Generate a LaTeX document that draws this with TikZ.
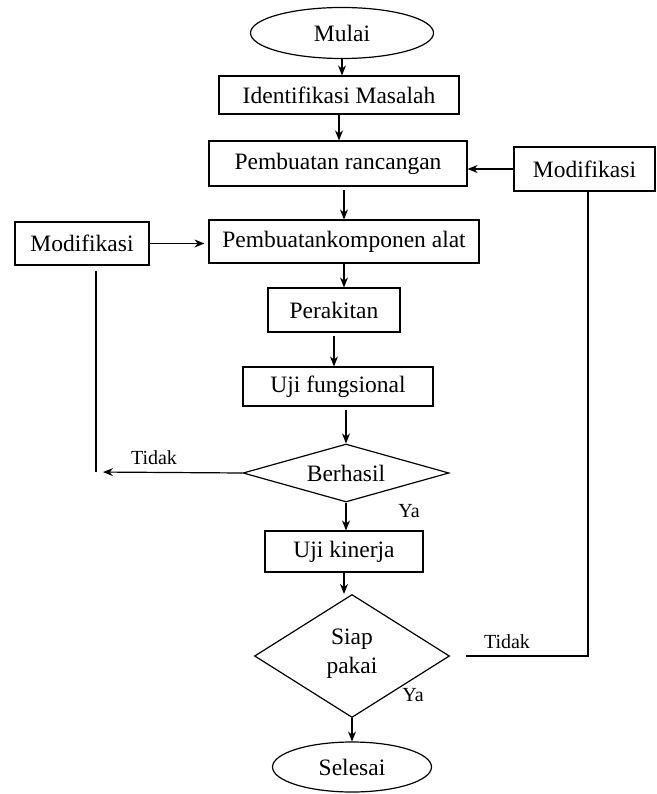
\documentclass[tikz,border=0pt]{standalone}
\usepackage{fontspec}
\setmainfont{Liberation Serif}
\usetikzlibrary{shapes.geometric, arrows.meta}

\begin{document}
\begin{tikzpicture}[x=1pt, y=-1pt, line width=1.2pt,
    >={Stealth[length=10pt, width=8pt]},
    kotak/.style={draw, rectangle, inner sep=0pt, font=\fontsize{23.5}{25}\selectfont},
    elips/.style={draw, ellipse, inner sep=0pt, font=\fontsize{23.5}{25}\selectfont},
    wajik/.style={draw, diamond, inner sep=0pt},
    teks/.style={inner sep=0pt, font=\fontsize{23.5}{29}\selectfont, align=center},
    ket/.style={inner sep=0pt, font=\fontsize{20}{22}\selectfont}]

  \useasboundingbox (0,0) rectangle (656,794);

  %-------------------------------------
  % Alur utama
  %-------------------------------------
  \node[elips, minimum width=183pt, minimum height=51pt] (mulai) at (342,33) {Mulai};
  \node[kotak, minimum width=240pt, minimum height=38pt] (identifikasi) at (339,95) {Identifikasi Masalah};
  \node[kotak, minimum width=258pt, minimum height=45pt] (rancangan) at (338,163.5) {Pembuatan rancangan};
  \node[kotak, minimum width=270pt, minimum height=43pt] (komponen) at (344,241.5) {Pembuatankomponen alat};
  \node[kotak, minimum width=132pt, minimum height=44pt] (perakitan) at (334,310) {Perakitan};
  \node[kotak, minimum width=190pt, minimum height=39pt] (ujifungsi) at (338,386.5) {Uji fungsional};

  % Keputusan pertama
  \node[wajik, minimum width=206pt, minimum height=58pt] (berhasil) at (346,473) {};
  \node[teks] at (berhasil) {Berhasil};

  \node[kotak, minimum width=158pt, minimum height=41pt] (ujikinerja) at (344,551.5) {Uji kinerja};

  % Keputusan kedua
  \node[wajik, minimum width=195pt, minimum height=123pt] (siap) at (352,656) {};
  \node[teks] at ([yshift=2pt]siap.center) {Siap\\pakai};

  \node[elips, minimum width=159pt, minimum height=50pt] (selesai) at (352,767) {Selesai};

  % Kotak modifikasi
  \node[kotak, minimum width=134pt, minimum height=43pt] (modkiri) at (82,243.5) {Modifikasi};
  \node[kotak, minimum width=141pt, minimum height=44pt] (modkanan) at (584.5,169) {Modifikasi};

  %-------------------------------------
  % Panah
  %-------------------------------------
  \draw[->] (mulai) -- (mulai |- identifikasi.north);
  \draw[->] (identifikasi) -- (identifikasi |- rancangan.north);
  \draw[->, shorten <=3pt] (rancangan.south -| komponen.north) -- (komponen.north);
  \draw[->] (komponen.south) -- (komponen.south |- perakitan.north);
  \draw[->, shorten <=3pt] (perakitan.south) -- (perakitan.south |- ujifungsi.north);
  \draw[->, shorten <=3pt] (ujifungsi.south -| berhasil.north) -- (berhasil.north);
  \draw[->] (berhasil.south) -- (berhasil.south |- ujikinerja.north);
  \draw[->] (ujikinerja.south) -- (ujikinerja.south |- siap.north);
  \draw[->] (siap.south) -- (selesai.north);

  \draw[->, shorten >=4pt] (modkiri.east) -- (modkiri.east -| komponen.west);
  \draw[->] (modkanan.west) -- (modkanan.west -| rancangan.east);

  % Jalur "Tidak"
  \coordinate (kiri) at (96,472);
  \coordinate (kanan) at (588,656);
  \draw[->, shorten >=7pt] (berhasil.west) -- (kiri);
  \draw[shorten >=5pt] (kiri) -- (kiri |- modkiri.south);
  \draw[shorten <=16pt] (siap.east) -- (kanan) -- (kanan |- modkanan.south);

  % Keterangan
  \node[ket] (tidak1) at (154,458) {Tidak};
  \node[ket] (ya1) at (409,511) {Ya};
  \node[ket] (tidak2) at (507,642) {Tidak};
  \node[ket] (ya2) at (413,695) {Ya};

\end{tikzpicture}
\end{document}
